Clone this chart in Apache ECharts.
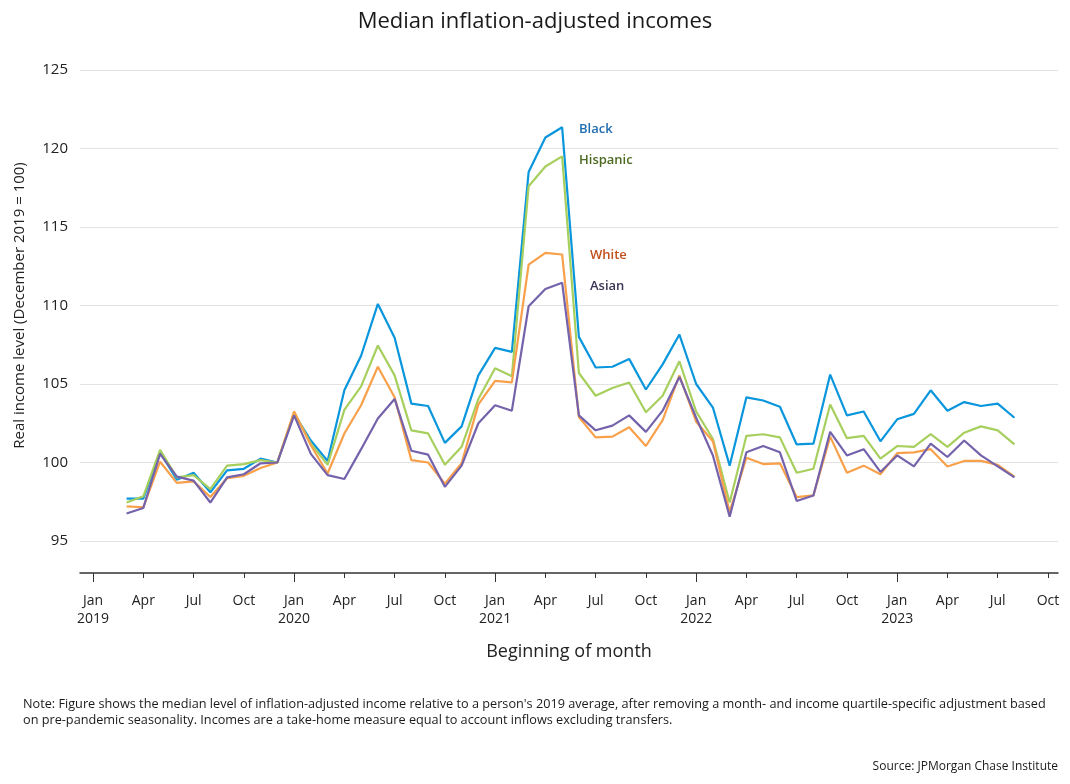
<!DOCTYPE html>
<html>
<head>
<meta charset="utf-8">
<script src="https://cdn.jsdelivr.net/npm/echarts@6/dist/echarts.min.js"></script>
<style>
html,body{margin:0;padding:0;background:#fff;}
#chart{width:1070px;height:784px;}
</style>
</head>
<body>
<div id="chart"></div>
<script>
// Months (beginning of month), Mar 2019 .. Aug 2023
const months = ["2019-03","2019-04","2019-05","2019-06","2019-07","2019-08","2019-09","2019-10","2019-11","2019-12",
"2020-01","2020-02","2020-03","2020-04","2020-05","2020-06","2020-07","2020-08","2020-09","2020-10","2020-11","2020-12",
"2021-01","2021-02","2021-03","2021-04","2021-05","2021-06","2021-07","2021-08","2021-09","2021-10","2021-11","2021-12",
"2022-01","2022-02","2022-03","2022-04","2022-05","2022-06","2022-07","2022-08","2022-09","2022-10","2022-11","2022-12",
"2023-01","2023-02","2023-03","2023-04","2023-05","2023-06","2023-07","2023-08"];

const black = [97.7,97.7,100.65,98.9,99.35,98.1,99.5,99.6,100.25,100,
103.1,101.4,100.1,104.6,106.8,110.1,107.95,103.75,103.6,101.25,102.3,105.55,
107.3,107.05,118.5,120.7,121.35,108.0,106.05,106.1,106.6,104.65,106.25,108.15,
105.0,103.5,99.8,104.15,103.95,103.55,101.15,101.2,105.6,103.0,103.25,
101.35,102.75,103.1,104.6,103.3,103.85,103.6,103.75,102.85];

const hispanic = [97.45,97.85,100.8,99.05,99.2,98.3,99.8,99.9,100.15,100,
103.2,101.2,99.85,103.35,104.85,107.45,105.55,102.05,101.85,99.85,101.0,104.05,
106.0,105.5,117.6,118.85,119.5,105.7,104.25,104.75,105.1,103.2,104.25,106.45,
103.25,101.5,97.45,101.7,101.8,101.6,99.35,99.6,103.7,101.55,101.7,
100.25,101.05,101.0,101.8,101.0,101.9,102.3,102.05,101.15];

const white = [97.2,97.15,100.05,98.7,98.8,97.8,99.0,99.15,99.65,100,
103.25,101.1,99.3,101.85,103.65,106.1,104.15,100.15,100.0,98.65,99.95,103.7,
105.2,105.1,112.6,113.35,113.25,102.9,101.6,101.65,102.25,101.05,102.7,105.55,
102.6,101.35,96.85,100.3,99.9,99.95,97.8,97.9,101.65,99.35,99.8,
99.25,100.6,100.65,100.85,99.75,100.1,100.1,99.85,99.1];

const asian = [96.75,97.1,100.55,99.1,98.85,97.45,99.05,99.25,99.95,100,
103.0,100.55,99.2,98.95,100.85,102.8,104.05,100.75,100.5,98.45,99.8,102.5,
103.65,103.3,109.95,111.05,111.45,103.0,102.05,102.35,103.0,101.95,103.3,105.45,
102.85,100.45,96.55,100.65,101.05,100.65,97.55,97.9,101.95,100.45,100.85,
99.4,100.45,99.75,101.2,100.35,101.4,100.45,99.75,99.05];

const monthNames = ["Jan","Feb","Mar","Apr","May","Jun","Jul","Aug","Sep","Oct","Nov","Dec"];
const yTicks = [95,100,105,110,115,120,125];
const startYear = 2019;

function monthIndex(s){
  const [y,m] = s.split("-").map(Number);
  return (y - startYear) * 12 + (m - 1);
}
const xs = months.map(monthIndex);
const pairs = arr => arr.map((v,i) => [xs[i], v]);

const quarterTicks = [];
for (let i = 0; i <= 57; i += 3) quarterTicks.push(i);
const janTicks = quarterTicks.filter(v => v % 12 === 0);
const otherTicks = quarterTicks.filter(v => v % 12 !== 0);

const FONT = '"Open Sans", "Noto Sans", sans-serif';
const textColor = '#222';
const xMin = -0.78, xMax = 57.6;

const chart = echarts.init(document.getElementById('chart'));
const seriesDefs = [
  {name:'Black', data:black, color:'#0996dc'},
  {name:'Hispanic', data:hispanic, color:'#a7cf5e'},
  {name:'White', data:white, color:'#f8a04a'},
  {name:'Asian', data:asian, color:'#7462ab'}
];

chart.setOption({
  animation:false,
  backgroundColor:'#fff',
  title:{
    text:'Median inflation-adjusted incomes',
    left:'center', top:6,
    textStyle:{fontFamily:FONT, fontSize:22, fontWeight:'normal', color:'#1a1a1a'}
  },
  grid:{left:80, right:12, top:70, bottom:243},
  xAxis:[{
    type:'value', position:'bottom', min:xMin, max:xMax, offset:32,
    name:'Beginning of month', nameLocation:'middle', nameGap:70,
    nameTextStyle:{fontFamily:FONT, fontSize:18, color:textColor},
    axisLine:{show:true, lineStyle:{color:'#333', width:1.5}},
    axisTick:{show:true, length:5, customValues:otherTicks, lineStyle:{color:'#333'}},
    axisLabel:{
      customValues:quarterTicks, margin:19,
      fontFamily:FONT, fontSize:14, color:textColor, lineHeight:18,
      formatter:function(v){
        const idx = Math.round(v);
        const m = ((idx % 12) + 12) % 12;
        if (m === 0) return monthNames[m] + '\n' + (startYear + idx/12);
        return monthNames[m];
      }
    },
    splitLine:{show:false}
  },{
    type:'value', position:'bottom', min:xMin, max:xMax, offset:32,
    axisLine:{show:false},
    axisTick:{show:true, length:9, customValues:janTicks, lineStyle:{color:'#333'}},
    axisLabel:{show:false},
    splitLine:{show:false}
  }],
  yAxis:{
    type:'value', min:95, max:125, interval:5,
    name:'Real income level (December 2019 = 100)', nameLocation:'middle', nameGap:53,
    nameTextStyle:{fontFamily:FONT, fontSize:15, color:textColor},
    axisLine:{show:false}, axisTick:{show:false},
    axisLabel:{margin:12, fontFamily:FONT, fontSize:15, color:textColor,
      formatter:v => yTicks.includes(v) ? String(v) : ''},
    splitLine:{lineStyle:{color:'#e3e3e3', width:1}}
  },
  series: seriesDefs.map(s => ({
    name:s.name, type:'line', data:pairs(s.data), xAxisIndex:0,
    showSymbol:false, symbol:'none',
    lineStyle:{color:s.color, width:2.2}, itemStyle:{color:s.color}
  })),
  graphic:[
    {type:'text', left:579, top:123, style:{text:'Black', fontFamily:FONT, fontSize:13, fontWeight:600, fill:'#1f6db0'}},
    {type:'text', left:579, top:154, style:{text:'Hispanic', fontFamily:FONT, fontSize:13, fontWeight:600, fill:'#4d6a22'}},
    {type:'text', left:590, top:249, style:{text:'White', fontFamily:FONT, fontSize:13, fontWeight:600, fill:'#c2501c'}},
    {type:'text', left:590, top:280, style:{text:'Asian', fontFamily:FONT, fontSize:13, fontWeight:600, fill:'#3a3655'}},
    {type:'text', left:23, top:696, style:{
      text:"Note: Figure shows the median level of inflation-adjusted income relative to a person's 2019 average, after removing a month- and income quartile-specific adjustment based\non pre-pandemic seasonality. Incomes are a take-home measure equal to account inflows excluding transfers.",
      fontFamily:FONT, fontSize:12.7, lineHeight:16, fill:'#1a1a1a'}},
    {type:'text', right:12, top:761, style:{text:'Source: JPMorgan Chase Institute', fontFamily:FONT, fontSize:12, fill:'#1a1a1a'}}
  ]
});
</script>
</body>
</html>
